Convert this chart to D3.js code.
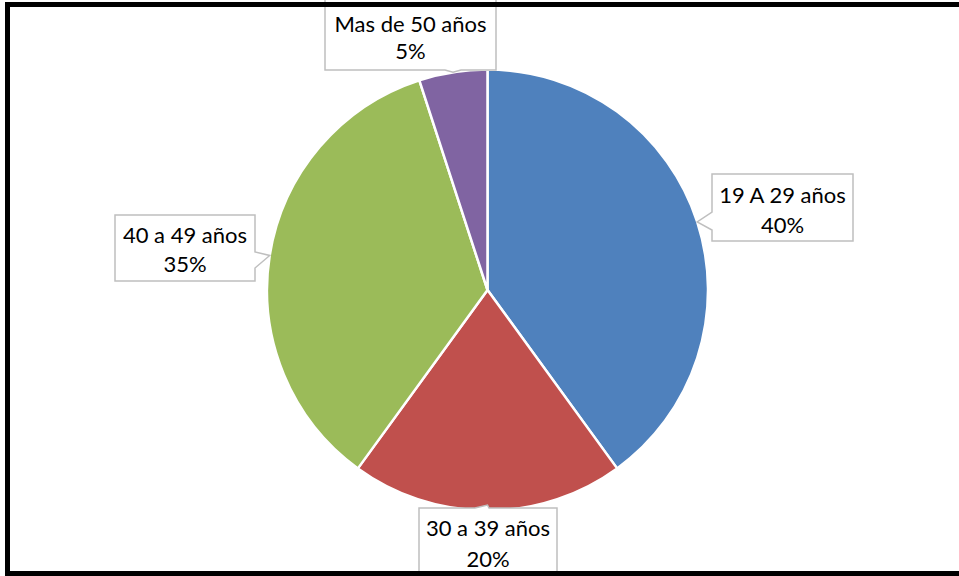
<!DOCTYPE html>
<html>
<head>
<meta charset="utf-8">
<script src="https://cdn.jsdelivr.net/npm/d3@7"></script>
<style>
  html, body { margin: 0; padding: 0; background: #fff; }
  svg { display: block; }
</style>
</head>
<body>
<svg id="chart" width="959" height="576"></svg>
<script>
// ---- data ----
const categories = ["19 A 29 años", "30 a 39 años", "40 a 49 años", "Mas de 50 años"];
const values = [40, 20, 35, 5];
const percentLabels = ["40%", "20%", "35%", "5%"];
const colors = ["#4F81BD", "#C0504D", "#9BBB59", "#8064A2"];

// ---- layout (callout boxes, per category) ----
const boxLayout = [
  { x: 712, y: 174, w: 141, h: 67, side: "left",   n0: 38, n1: 56, b1: 29, b2: 59 },
  { x: 419, y: 508, w: 138, h: 75, side: "top",    n0: 56, n1: 70, b1: 28, b2: 59 },
  { x: 115, y: 215, w: 140, h: 66, side: "right",  n0: 37, n1: 53, b1: 28, b2: 57 },
  { x: 325, y: -10, w: 171, h: 80, side: "bottom", n0: 120, n1: 136, b1: 42, b2: 69 }
];

const svg = d3.select("#chart");
const W = 959, H = 576;
const cx = 487.5, cy = 290, r = 220.5;

const pie = d3.pie().sort(null).value(d => d);
const arcs = pie(values);
const arc = d3.arc().innerRadius(0).outerRadius(r);
const edgeArc = d3.arc().innerRadius(r).outerRadius(r);

const g = svg.append("g").attr("transform", `translate(${cx},${cy})`);
g.selectAll("path.slice")
  .data(arcs)
  .join("path")
  .attr("class", "slice")
  .attr("d", arc)
  .attr("fill", (d, i) => colors[i])
  .attr("stroke", "#fff")
  .attr("stroke-width", 2.5)
  .attr("stroke-linejoin", "round");

// callouts
function calloutPath(b, tip) {
  const x0 = b.x, y0 = b.y, x1 = b.x + b.w, y1 = b.y + b.h;
  const tx = tip[0], ty = tip[1];
  if (b.side === "left") {
    return `M${x0},${y0}H${x1}V${y1}H${x0}V${y0 + b.n1}L${tx},${ty}L${x0},${y0 + b.n0}Z`;
  } else if (b.side === "right") {
    return `M${x0},${y0}H${x1}V${y0 + b.n0}L${tx},${ty}L${x1},${y0 + b.n1}V${y1}H${x0}Z`;
  } else if (b.side === "top") {
    return `M${x0},${y0}H${x0 + b.n0}L${tx},${ty}L${x0 + b.n1},${y0}H${x1}V${y1}H${x0}Z`;
  } else {
    return `M${x0},${y0}H${x1}V${y1}H${x0 + b.n1}L${tx},${ty}L${x0 + b.n0},${y1}H${x0}Z`;
  }
}

const labels = svg.append("g");
arcs.forEach((a, i) => {
  const b = boxLayout[i];
  const c = edgeArc.centroid(a);
  let tip = [cx + c[0], cy + c[1]];
  if (b.side === "top") tip = [tip[0], Math.min(tip[1], b.y - 3)];
  if (b.side === "bottom") tip = [tip[0], Math.max(tip[1], b.y + b.h + 2)];
  labels.append("path")
    .attr("d", calloutPath(b, tip))
    .attr("fill", "#fff")
    .attr("stroke", "#BFBFBF")
    .attr("stroke-width", 1.5);
  const t = labels.append("text")
    .attr("text-anchor", "middle")
    .attr("font-family", "Lato, 'Open Sans', sans-serif")
    .attr("font-size", 22)
    .attr("fill", "#000");
  t.append("tspan").attr("x", b.x + b.w / 2).attr("y", b.y + b.b1).text(categories[i]);
  t.append("tspan").attr("x", b.x + b.w / 2).attr("y", b.y + b.b2).text(percentLabels[i]);
});

// outer frame
svg.append("path")
  .attr("d", `M${W + 10},4.5H7.5V573.5H${W + 10}`)
  .attr("fill", "none")
  .attr("stroke", "#000")
  .attr("stroke-width", 5);
</script>
</body>
</html>
